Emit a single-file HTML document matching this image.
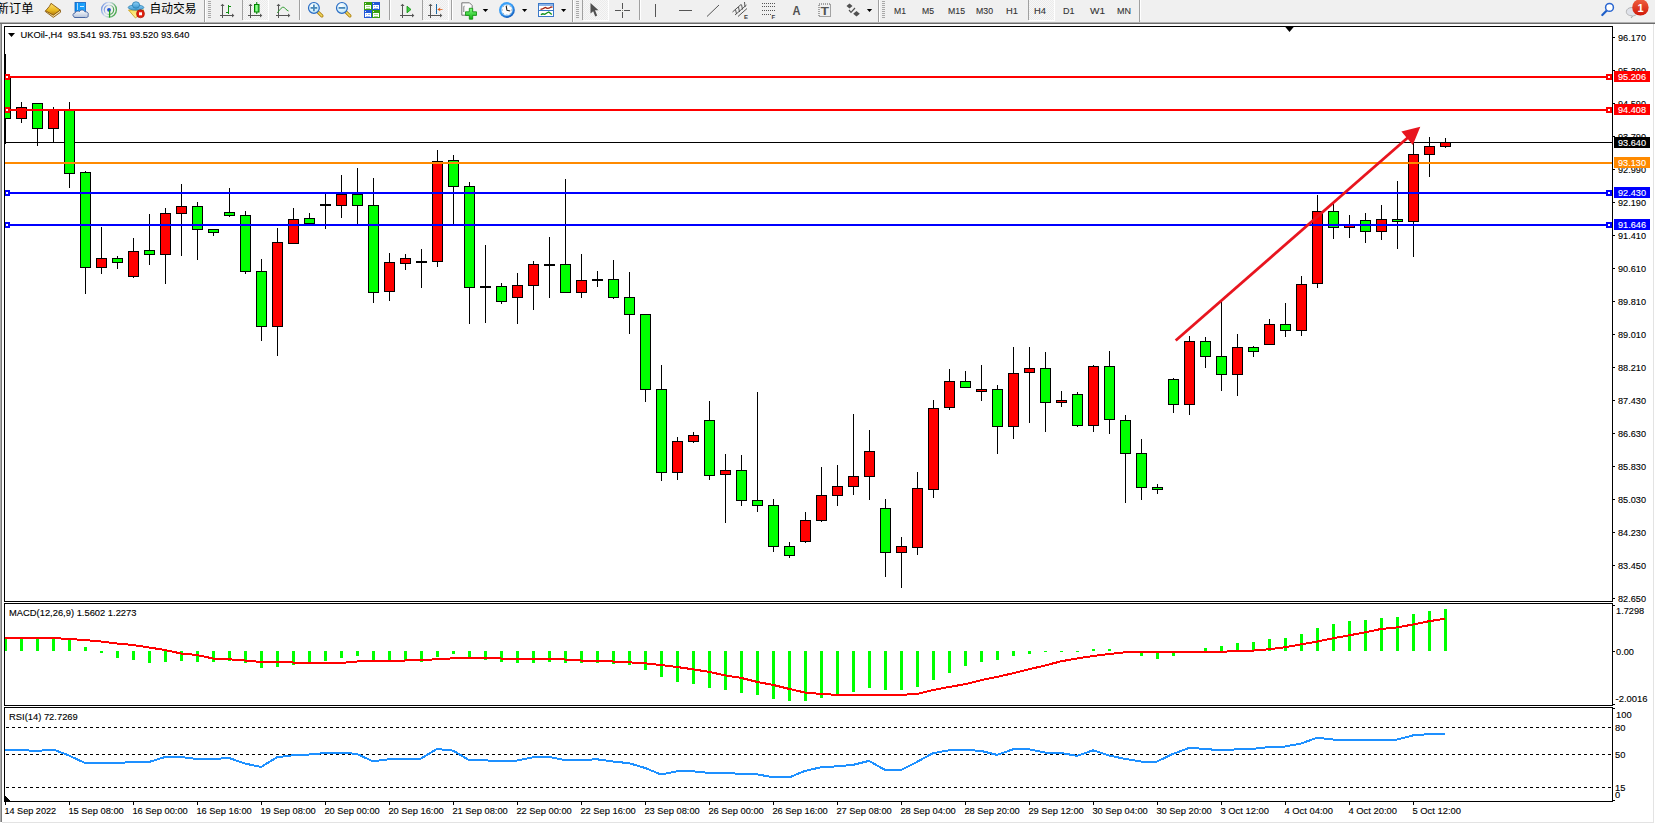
<!DOCTYPE html>
<html><head><meta charset="utf-8"><title>UKOil H4</title>
<style>
html,body{margin:0;padding:0;background:#fff;}
body{width:1655px;height:824px;overflow:hidden;position:relative;font-family:'Liberation Sans', sans-serif;}
#tb{position:absolute;left:0;top:0;width:1655px;height:22px;background:#f0f0f0;}
#tbl1{position:absolute;left:0;top:22px;width:1655px;height:1px;background:#b0b0b0;}
#tbl2{position:absolute;left:0;top:23px;width:1655px;height:1px;background:#6c6c6c;}
</style></head><body>
<svg id="chart" width="1655" height="824" viewBox="0 0 1655 824" style="position:absolute;left:0;top:0">
<g shape-rendering="crispEdges">
<rect x="0" y="22" width="1" height="800" fill="#ababab"/>
<rect x="1" y="22" width="1" height="800" fill="#7a7a7a"/>
<rect x="2" y="822" width="1652" height="1" fill="#e3e3e3"/>
<rect x="1653" y="24" width="1" height="799" fill="#e3e3e3"/>
</g>
<defs><clipPath id="cm"><rect x="5" y="27" width="1607" height="574"/></clipPath><clipPath id="cd"><rect x="5" y="604" width="1607" height="101"/></clipPath><clipPath id="cr"><rect x="5" y="708" width="1607" height="93"/></clipPath></defs>
<g clip-path="url(#cm)" shape-rendering="crispEdges">
<rect x="5" y="142" width="1607" height="1" fill="#000"/>
<rect x="5" y="54" width="1" height="90" fill="#000"/>
<rect x="0" y="78" width="11" height="41" fill="#000"/>
<rect x="1" y="79" width="9" height="39" fill="#00ff00"/>
<rect x="21" y="102" width="1" height="21" fill="#000"/>
<rect x="16" y="107" width="11" height="12" fill="#000"/>
<rect x="17" y="108" width="9" height="10" fill="#ff0000"/>
<rect x="37" y="103" width="1" height="43" fill="#000"/>
<rect x="32" y="103" width="11" height="26" fill="#000"/>
<rect x="33" y="104" width="9" height="24" fill="#00ff00"/>
<rect x="53" y="107" width="1" height="36" fill="#000"/>
<rect x="48" y="109" width="11" height="20" fill="#000"/>
<rect x="49" y="110" width="9" height="18" fill="#ff0000"/>
<rect x="69" y="102" width="1" height="86" fill="#000"/>
<rect x="64" y="110" width="11" height="64" fill="#000"/>
<rect x="65" y="111" width="9" height="62" fill="#00ff00"/>
<rect x="85" y="171" width="1" height="123" fill="#000"/>
<rect x="80" y="172" width="11" height="96" fill="#000"/>
<rect x="81" y="173" width="9" height="94" fill="#00ff00"/>
<rect x="101" y="227" width="1" height="47" fill="#000"/>
<rect x="96" y="258" width="11" height="10" fill="#000"/>
<rect x="97" y="259" width="9" height="8" fill="#ff0000"/>
<rect x="117" y="256" width="1" height="13" fill="#000"/>
<rect x="112" y="258" width="11" height="5" fill="#000"/>
<rect x="113" y="259" width="9" height="3" fill="#00ff00"/>
<rect x="133" y="238" width="1" height="40" fill="#000"/>
<rect x="128" y="251" width="11" height="26" fill="#000"/>
<rect x="129" y="252" width="9" height="24" fill="#ff0000"/>
<rect x="149" y="214" width="1" height="51" fill="#000"/>
<rect x="144" y="250" width="11" height="5" fill="#000"/>
<rect x="145" y="251" width="9" height="3" fill="#00ff00"/>
<rect x="165" y="208" width="1" height="76" fill="#000"/>
<rect x="160" y="213" width="11" height="42" fill="#000"/>
<rect x="161" y="214" width="9" height="40" fill="#ff0000"/>
<rect x="181" y="184" width="1" height="72" fill="#000"/>
<rect x="176" y="206" width="11" height="8" fill="#000"/>
<rect x="177" y="207" width="9" height="6" fill="#ff0000"/>
<rect x="197" y="202" width="1" height="58" fill="#000"/>
<rect x="192" y="206" width="11" height="24" fill="#000"/>
<rect x="193" y="207" width="9" height="22" fill="#00ff00"/>
<rect x="213" y="229" width="1" height="7" fill="#000"/>
<rect x="208" y="229" width="11" height="4" fill="#000"/>
<rect x="209" y="230" width="9" height="2" fill="#00ff00"/>
<rect x="229" y="188" width="1" height="29" fill="#000"/>
<rect x="224" y="212" width="11" height="4" fill="#000"/>
<rect x="225" y="213" width="9" height="2" fill="#00ff00"/>
<rect x="245" y="211" width="1" height="63" fill="#000"/>
<rect x="240" y="215" width="11" height="57" fill="#000"/>
<rect x="241" y="216" width="9" height="55" fill="#00ff00"/>
<rect x="261" y="259" width="1" height="82" fill="#000"/>
<rect x="256" y="271" width="11" height="56" fill="#000"/>
<rect x="257" y="272" width="9" height="54" fill="#00ff00"/>
<rect x="277" y="228" width="1" height="128" fill="#000"/>
<rect x="272" y="242" width="11" height="85" fill="#000"/>
<rect x="273" y="243" width="9" height="83" fill="#ff0000"/>
<rect x="293" y="208" width="1" height="36" fill="#000"/>
<rect x="288" y="219" width="11" height="25" fill="#000"/>
<rect x="289" y="220" width="9" height="23" fill="#ff0000"/>
<rect x="309" y="213" width="1" height="11" fill="#000"/>
<rect x="304" y="218" width="11" height="6" fill="#000"/>
<rect x="305" y="219" width="9" height="4" fill="#00ff00"/>
<rect x="325" y="193" width="1" height="36" fill="#000"/>
<rect x="320" y="204" width="11" height="2" fill="#000"/>
<rect x="341" y="175" width="1" height="43" fill="#000"/>
<rect x="336" y="194" width="11" height="12" fill="#000"/>
<rect x="337" y="195" width="9" height="10" fill="#ff0000"/>
<rect x="357" y="168" width="1" height="56" fill="#000"/>
<rect x="352" y="194" width="11" height="12" fill="#000"/>
<rect x="353" y="195" width="9" height="10" fill="#00ff00"/>
<rect x="373" y="178" width="1" height="125" fill="#000"/>
<rect x="368" y="205" width="11" height="88" fill="#000"/>
<rect x="369" y="206" width="9" height="86" fill="#00ff00"/>
<rect x="389" y="253" width="1" height="48" fill="#000"/>
<rect x="384" y="262" width="11" height="30" fill="#000"/>
<rect x="385" y="263" width="9" height="28" fill="#ff0000"/>
<rect x="405" y="254" width="1" height="16" fill="#000"/>
<rect x="400" y="258" width="11" height="6" fill="#000"/>
<rect x="401" y="259" width="9" height="4" fill="#ff0000"/>
<rect x="421" y="249" width="1" height="39" fill="#000"/>
<rect x="416" y="261" width="11" height="2" fill="#000"/>
<rect x="437" y="150" width="1" height="117" fill="#000"/>
<rect x="432" y="161" width="11" height="101" fill="#000"/>
<rect x="433" y="162" width="9" height="99" fill="#ff0000"/>
<rect x="453" y="155" width="1" height="69" fill="#000"/>
<rect x="448" y="160" width="11" height="27" fill="#000"/>
<rect x="449" y="161" width="9" height="25" fill="#00ff00"/>
<rect x="469" y="182" width="1" height="142" fill="#000"/>
<rect x="464" y="186" width="11" height="102" fill="#000"/>
<rect x="465" y="187" width="9" height="100" fill="#00ff00"/>
<rect x="485" y="245" width="1" height="78" fill="#000"/>
<rect x="480" y="286" width="11" height="2" fill="#000"/>
<rect x="501" y="283" width="1" height="21" fill="#000"/>
<rect x="496" y="286" width="11" height="16" fill="#000"/>
<rect x="497" y="287" width="9" height="14" fill="#00ff00"/>
<rect x="517" y="273" width="1" height="51" fill="#000"/>
<rect x="512" y="285" width="11" height="13" fill="#000"/>
<rect x="513" y="286" width="9" height="11" fill="#ff0000"/>
<rect x="533" y="261" width="1" height="49" fill="#000"/>
<rect x="528" y="264" width="11" height="22" fill="#000"/>
<rect x="529" y="265" width="9" height="20" fill="#ff0000"/>
<rect x="549" y="237" width="1" height="61" fill="#000"/>
<rect x="544" y="264" width="11" height="2" fill="#000"/>
<rect x="565" y="179" width="1" height="114" fill="#000"/>
<rect x="560" y="264" width="11" height="29" fill="#000"/>
<rect x="561" y="265" width="9" height="27" fill="#00ff00"/>
<rect x="581" y="254" width="1" height="44" fill="#000"/>
<rect x="576" y="280" width="11" height="13" fill="#000"/>
<rect x="577" y="281" width="9" height="11" fill="#ff0000"/>
<rect x="597" y="271" width="1" height="16" fill="#000"/>
<rect x="592" y="279" width="11" height="2" fill="#000"/>
<rect x="613" y="260" width="1" height="39" fill="#000"/>
<rect x="608" y="279" width="11" height="19" fill="#000"/>
<rect x="609" y="280" width="9" height="17" fill="#00ff00"/>
<rect x="629" y="272" width="1" height="62" fill="#000"/>
<rect x="624" y="297" width="11" height="18" fill="#000"/>
<rect x="625" y="298" width="9" height="16" fill="#00ff00"/>
<rect x="645" y="314" width="1" height="88" fill="#000"/>
<rect x="640" y="314" width="11" height="76" fill="#000"/>
<rect x="641" y="315" width="9" height="74" fill="#00ff00"/>
<rect x="661" y="365" width="1" height="116" fill="#000"/>
<rect x="656" y="389" width="11" height="84" fill="#000"/>
<rect x="657" y="390" width="9" height="82" fill="#00ff00"/>
<rect x="677" y="437" width="1" height="43" fill="#000"/>
<rect x="672" y="441" width="11" height="32" fill="#000"/>
<rect x="673" y="442" width="9" height="30" fill="#ff0000"/>
<rect x="693" y="432" width="1" height="11" fill="#000"/>
<rect x="688" y="435" width="11" height="7" fill="#000"/>
<rect x="689" y="436" width="9" height="5" fill="#ff0000"/>
<rect x="709" y="401" width="1" height="79" fill="#000"/>
<rect x="704" y="420" width="11" height="56" fill="#000"/>
<rect x="705" y="421" width="9" height="54" fill="#00ff00"/>
<rect x="725" y="454" width="1" height="69" fill="#000"/>
<rect x="720" y="470" width="11" height="5" fill="#000"/>
<rect x="721" y="471" width="9" height="3" fill="#ff0000"/>
<rect x="741" y="455" width="1" height="51" fill="#000"/>
<rect x="736" y="470" width="11" height="31" fill="#000"/>
<rect x="737" y="471" width="9" height="29" fill="#00ff00"/>
<rect x="757" y="392" width="1" height="120" fill="#000"/>
<rect x="752" y="500" width="11" height="6" fill="#000"/>
<rect x="753" y="501" width="9" height="4" fill="#00ff00"/>
<rect x="773" y="499" width="1" height="53" fill="#000"/>
<rect x="768" y="505" width="11" height="42" fill="#000"/>
<rect x="769" y="506" width="9" height="40" fill="#00ff00"/>
<rect x="789" y="542" width="1" height="16" fill="#000"/>
<rect x="784" y="546" width="11" height="10" fill="#000"/>
<rect x="785" y="547" width="9" height="8" fill="#00ff00"/>
<rect x="805" y="512" width="1" height="31" fill="#000"/>
<rect x="800" y="520" width="11" height="22" fill="#000"/>
<rect x="801" y="521" width="9" height="20" fill="#ff0000"/>
<rect x="821" y="467" width="1" height="55" fill="#000"/>
<rect x="816" y="495" width="11" height="26" fill="#000"/>
<rect x="817" y="496" width="9" height="24" fill="#ff0000"/>
<rect x="837" y="465" width="1" height="41" fill="#000"/>
<rect x="832" y="486" width="11" height="10" fill="#000"/>
<rect x="833" y="487" width="9" height="8" fill="#ff0000"/>
<rect x="853" y="414" width="1" height="81" fill="#000"/>
<rect x="848" y="476" width="11" height="11" fill="#000"/>
<rect x="849" y="477" width="9" height="9" fill="#ff0000"/>
<rect x="869" y="430" width="1" height="70" fill="#000"/>
<rect x="864" y="451" width="11" height="26" fill="#000"/>
<rect x="865" y="452" width="9" height="24" fill="#ff0000"/>
<rect x="885" y="499" width="1" height="78" fill="#000"/>
<rect x="880" y="508" width="11" height="45" fill="#000"/>
<rect x="881" y="509" width="9" height="43" fill="#00ff00"/>
<rect x="901" y="537" width="1" height="51" fill="#000"/>
<rect x="896" y="546" width="11" height="7" fill="#000"/>
<rect x="897" y="547" width="9" height="5" fill="#ff0000"/>
<rect x="917" y="472" width="1" height="83" fill="#000"/>
<rect x="912" y="488" width="11" height="60" fill="#000"/>
<rect x="913" y="489" width="9" height="58" fill="#ff0000"/>
<rect x="933" y="400" width="1" height="98" fill="#000"/>
<rect x="928" y="408" width="11" height="82" fill="#000"/>
<rect x="929" y="409" width="9" height="80" fill="#ff0000"/>
<rect x="949" y="369" width="1" height="41" fill="#000"/>
<rect x="944" y="381" width="11" height="27" fill="#000"/>
<rect x="945" y="382" width="9" height="25" fill="#ff0000"/>
<rect x="965" y="371" width="1" height="17" fill="#000"/>
<rect x="960" y="381" width="11" height="7" fill="#000"/>
<rect x="961" y="382" width="9" height="5" fill="#00ff00"/>
<rect x="981" y="365" width="1" height="36" fill="#000"/>
<rect x="976" y="389" width="11" height="3" fill="#000"/>
<rect x="977" y="390" width="9" height="1" fill="#ff0000"/>
<rect x="997" y="385" width="1" height="69" fill="#000"/>
<rect x="992" y="389" width="11" height="38" fill="#000"/>
<rect x="993" y="390" width="9" height="36" fill="#00ff00"/>
<rect x="1013" y="347" width="1" height="92" fill="#000"/>
<rect x="1008" y="373" width="11" height="54" fill="#000"/>
<rect x="1009" y="374" width="9" height="52" fill="#ff0000"/>
<rect x="1029" y="347" width="1" height="76" fill="#000"/>
<rect x="1024" y="368" width="11" height="5" fill="#000"/>
<rect x="1025" y="369" width="9" height="3" fill="#ff0000"/>
<rect x="1045" y="352" width="1" height="80" fill="#000"/>
<rect x="1040" y="368" width="11" height="35" fill="#000"/>
<rect x="1041" y="369" width="9" height="33" fill="#00ff00"/>
<rect x="1061" y="391" width="1" height="16" fill="#000"/>
<rect x="1056" y="400" width="11" height="3" fill="#000"/>
<rect x="1057" y="401" width="9" height="1" fill="#ff0000"/>
<rect x="1077" y="392" width="1" height="35" fill="#000"/>
<rect x="1072" y="394" width="11" height="32" fill="#000"/>
<rect x="1073" y="395" width="9" height="30" fill="#00ff00"/>
<rect x="1093" y="365" width="1" height="67" fill="#000"/>
<rect x="1088" y="366" width="11" height="60" fill="#000"/>
<rect x="1089" y="367" width="9" height="58" fill="#ff0000"/>
<rect x="1109" y="351" width="1" height="83" fill="#000"/>
<rect x="1104" y="366" width="11" height="54" fill="#000"/>
<rect x="1105" y="367" width="9" height="52" fill="#00ff00"/>
<rect x="1125" y="415" width="1" height="88" fill="#000"/>
<rect x="1120" y="420" width="11" height="34" fill="#000"/>
<rect x="1121" y="421" width="9" height="32" fill="#00ff00"/>
<rect x="1141" y="439" width="1" height="61" fill="#000"/>
<rect x="1136" y="453" width="11" height="35" fill="#000"/>
<rect x="1137" y="454" width="9" height="33" fill="#00ff00"/>
<rect x="1157" y="484" width="1" height="10" fill="#000"/>
<rect x="1152" y="487" width="11" height="3" fill="#000"/>
<rect x="1153" y="488" width="9" height="1" fill="#00ff00"/>
<rect x="1173" y="378" width="1" height="35" fill="#000"/>
<rect x="1168" y="379" width="11" height="26" fill="#000"/>
<rect x="1169" y="380" width="9" height="24" fill="#00ff00"/>
<rect x="1189" y="336" width="1" height="79" fill="#000"/>
<rect x="1184" y="341" width="11" height="64" fill="#000"/>
<rect x="1185" y="342" width="9" height="62" fill="#ff0000"/>
<rect x="1205" y="337" width="1" height="31" fill="#000"/>
<rect x="1200" y="341" width="11" height="16" fill="#000"/>
<rect x="1201" y="342" width="9" height="14" fill="#00ff00"/>
<rect x="1221" y="302" width="1" height="89" fill="#000"/>
<rect x="1216" y="356" width="11" height="19" fill="#000"/>
<rect x="1217" y="357" width="9" height="17" fill="#00ff00"/>
<rect x="1237" y="334" width="1" height="62" fill="#000"/>
<rect x="1232" y="347" width="11" height="28" fill="#000"/>
<rect x="1233" y="348" width="9" height="26" fill="#ff0000"/>
<rect x="1253" y="346" width="1" height="11" fill="#000"/>
<rect x="1248" y="347" width="11" height="5" fill="#000"/>
<rect x="1249" y="348" width="9" height="3" fill="#00ff00"/>
<rect x="1269" y="319" width="1" height="26" fill="#000"/>
<rect x="1264" y="324" width="11" height="21" fill="#000"/>
<rect x="1265" y="325" width="9" height="19" fill="#ff0000"/>
<rect x="1285" y="303" width="1" height="34" fill="#000"/>
<rect x="1280" y="324" width="11" height="7" fill="#000"/>
<rect x="1281" y="325" width="9" height="5" fill="#00ff00"/>
<rect x="1301" y="276" width="1" height="60" fill="#000"/>
<rect x="1296" y="284" width="11" height="47" fill="#000"/>
<rect x="1297" y="285" width="9" height="45" fill="#ff0000"/>
<rect x="1317" y="195" width="1" height="93" fill="#000"/>
<rect x="1312" y="211" width="11" height="73" fill="#000"/>
<rect x="1313" y="212" width="9" height="71" fill="#ff0000"/>
<rect x="1333" y="204" width="1" height="35" fill="#000"/>
<rect x="1328" y="211" width="11" height="17" fill="#000"/>
<rect x="1329" y="212" width="9" height="15" fill="#00ff00"/>
<rect x="1349" y="215" width="1" height="23" fill="#000"/>
<rect x="1344" y="225" width="11" height="3" fill="#000"/>
<rect x="1345" y="226" width="9" height="1" fill="#ff0000"/>
<rect x="1365" y="213" width="1" height="30" fill="#000"/>
<rect x="1360" y="220" width="11" height="12" fill="#000"/>
<rect x="1361" y="221" width="9" height="10" fill="#00ff00"/>
<rect x="1381" y="205" width="1" height="35" fill="#000"/>
<rect x="1376" y="219" width="11" height="13" fill="#000"/>
<rect x="1377" y="220" width="9" height="11" fill="#ff0000"/>
<rect x="1397" y="181" width="1" height="68" fill="#000"/>
<rect x="1392" y="219" width="11" height="3" fill="#000"/>
<rect x="1393" y="220" width="9" height="1" fill="#00ff00"/>
<rect x="1413" y="143" width="1" height="114" fill="#000"/>
<rect x="1408" y="154" width="11" height="68" fill="#000"/>
<rect x="1409" y="155" width="9" height="66" fill="#ff0000"/>
<rect x="1429" y="137" width="1" height="40" fill="#000"/>
<rect x="1424" y="146" width="11" height="9" fill="#000"/>
<rect x="1425" y="147" width="9" height="7" fill="#ff0000"/>
<rect x="1445" y="138" width="1" height="10" fill="#000"/>
<rect x="1440" y="142" width="11" height="5" fill="#000"/>
<rect x="1441" y="143" width="9" height="3" fill="#ff0000"/>
<rect x="5" y="76" width="1607" height="2" fill="#ff0000"/>
<rect x="5" y="109" width="1607" height="2" fill="#ff0000"/>
<rect x="5" y="162" width="1607" height="2" fill="#ff8a00"/>
<rect x="5" y="192" width="1607" height="2" fill="#0000ff"/>
<rect x="5" y="224" width="1607" height="2" fill="#0000ff"/>
<rect x="4" y="74" width="6" height="6" fill="#ff0000"/><rect x="6" y="76" width="2" height="2" fill="#fff"/>
<rect x="1606" y="74" width="6" height="6" fill="#ff0000"/><rect x="1608" y="76" width="2" height="2" fill="#fff"/>
<rect x="4" y="107" width="6" height="6" fill="#ff0000"/><rect x="6" y="109" width="2" height="2" fill="#fff"/>
<rect x="1606" y="107" width="6" height="6" fill="#ff0000"/><rect x="1608" y="109" width="2" height="2" fill="#fff"/>
<rect x="4" y="190" width="6" height="6" fill="#0000ff"/><rect x="6" y="192" width="2" height="2" fill="#fff"/>
<rect x="1606" y="190" width="6" height="6" fill="#0000ff"/><rect x="1608" y="192" width="2" height="2" fill="#fff"/>
<rect x="4" y="222" width="6" height="6" fill="#0000ff"/><rect x="6" y="224" width="2" height="2" fill="#fff"/>
<rect x="1606" y="222" width="6" height="6" fill="#0000ff"/><rect x="1608" y="224" width="2" height="2" fill="#fff"/>
</g>
<line x1="1175.7" y1="340.5" x2="1408.5" y2="137.0" stroke="#e8151f" stroke-width="2.8"/>
<polygon points="1420.3,126.8 1401.4,131.4 1406.5,137.5 1412.8,145" fill="#e8151f"/>
<g clip-path="url(#cd)" shape-rendering="crispEdges">
<rect x="4" y="638" width="3" height="13" fill="#00ff00"/>
<rect x="20" y="638" width="3" height="13" fill="#00ff00"/>
<rect x="36" y="638" width="3" height="13" fill="#00ff00"/>
<rect x="52" y="637" width="3" height="14" fill="#00ff00"/>
<rect x="68" y="640" width="3" height="11" fill="#00ff00"/>
<rect x="84" y="647" width="3" height="4" fill="#00ff00"/>
<rect x="100" y="651" width="3" height="2" fill="#00ff00"/>
<rect x="116" y="651" width="3" height="7" fill="#00ff00"/>
<rect x="132" y="651" width="3" height="9" fill="#00ff00"/>
<rect x="148" y="651" width="3" height="12" fill="#00ff00"/>
<rect x="164" y="651" width="3" height="11" fill="#00ff00"/>
<rect x="180" y="651" width="3" height="10" fill="#00ff00"/>
<rect x="196" y="651" width="3" height="11" fill="#00ff00"/>
<rect x="212" y="651" width="3" height="11" fill="#00ff00"/>
<rect x="228" y="651" width="3" height="10" fill="#00ff00"/>
<rect x="244" y="651" width="3" height="12" fill="#00ff00"/>
<rect x="260" y="651" width="3" height="17" fill="#00ff00"/>
<rect x="276" y="651" width="3" height="16" fill="#00ff00"/>
<rect x="292" y="651" width="3" height="14" fill="#00ff00"/>
<rect x="308" y="651" width="3" height="11" fill="#00ff00"/>
<rect x="324" y="651" width="3" height="10" fill="#00ff00"/>
<rect x="340" y="651" width="3" height="7" fill="#00ff00"/>
<rect x="356" y="651" width="3" height="5" fill="#00ff00"/>
<rect x="372" y="651" width="3" height="9" fill="#00ff00"/>
<rect x="388" y="651" width="3" height="9" fill="#00ff00"/>
<rect x="404" y="651" width="3" height="9" fill="#00ff00"/>
<rect x="420" y="651" width="3" height="11" fill="#00ff00"/>
<rect x="436" y="651" width="3" height="6" fill="#00ff00"/>
<rect x="452" y="651" width="3" height="3" fill="#00ff00"/>
<rect x="468" y="651" width="3" height="6" fill="#00ff00"/>
<rect x="484" y="651" width="3" height="9" fill="#00ff00"/>
<rect x="500" y="651" width="3" height="11" fill="#00ff00"/>
<rect x="516" y="651" width="3" height="12" fill="#00ff00"/>
<rect x="532" y="651" width="3" height="12" fill="#00ff00"/>
<rect x="548" y="651" width="3" height="11" fill="#00ff00"/>
<rect x="564" y="651" width="3" height="12" fill="#00ff00"/>
<rect x="580" y="651" width="3" height="12" fill="#00ff00"/>
<rect x="596" y="651" width="3" height="12" fill="#00ff00"/>
<rect x="612" y="651" width="3" height="13" fill="#00ff00"/>
<rect x="628" y="651" width="3" height="14" fill="#00ff00"/>
<rect x="644" y="651" width="3" height="19" fill="#00ff00"/>
<rect x="660" y="651" width="3" height="26" fill="#00ff00"/>
<rect x="676" y="651" width="3" height="31" fill="#00ff00"/>
<rect x="692" y="651" width="3" height="33" fill="#00ff00"/>
<rect x="708" y="651" width="3" height="37" fill="#00ff00"/>
<rect x="724" y="651" width="3" height="39" fill="#00ff00"/>
<rect x="740" y="651" width="3" height="42" fill="#00ff00"/>
<rect x="756" y="651" width="3" height="44" fill="#00ff00"/>
<rect x="772" y="651" width="3" height="48" fill="#00ff00"/>
<rect x="788" y="651" width="3" height="50" fill="#00ff00"/>
<rect x="804" y="651" width="3" height="50" fill="#00ff00"/>
<rect x="820" y="651" width="3" height="47" fill="#00ff00"/>
<rect x="836" y="651" width="3" height="43" fill="#00ff00"/>
<rect x="852" y="651" width="3" height="41" fill="#00ff00"/>
<rect x="868" y="651" width="3" height="37" fill="#00ff00"/>
<rect x="884" y="651" width="3" height="39" fill="#00ff00"/>
<rect x="900" y="651" width="3" height="39" fill="#00ff00"/>
<rect x="916" y="651" width="3" height="36" fill="#00ff00"/>
<rect x="932" y="651" width="3" height="29" fill="#00ff00"/>
<rect x="948" y="651" width="3" height="22" fill="#00ff00"/>
<rect x="964" y="651" width="3" height="15" fill="#00ff00"/>
<rect x="980" y="651" width="3" height="11" fill="#00ff00"/>
<rect x="996" y="651" width="3" height="9" fill="#00ff00"/>
<rect x="1012" y="651" width="3" height="5" fill="#00ff00"/>
<rect x="1028" y="651" width="3" height="3" fill="#00ff00"/>
<rect x="1044" y="651" width="3" height="1" fill="#00ff00"/>
<rect x="1060" y="651" width="3" height="1" fill="#00ff00"/>
<rect x="1076" y="651" width="3" height="1" fill="#00ff00"/>
<rect x="1092" y="649" width="3" height="2" fill="#00ff00"/>
<rect x="1108" y="649" width="3" height="2" fill="#00ff00"/>
<rect x="1124" y="651" width="3" height="1" fill="#00ff00"/>
<rect x="1140" y="651" width="3" height="5" fill="#00ff00"/>
<rect x="1156" y="651" width="3" height="8" fill="#00ff00"/>
<rect x="1172" y="651" width="3" height="5" fill="#00ff00"/>
<rect x="1204" y="648" width="3" height="3" fill="#00ff00"/>
<rect x="1220" y="646" width="3" height="5" fill="#00ff00"/>
<rect x="1236" y="643" width="3" height="8" fill="#00ff00"/>
<rect x="1252" y="642" width="3" height="9" fill="#00ff00"/>
<rect x="1268" y="639" width="3" height="12" fill="#00ff00"/>
<rect x="1284" y="638" width="3" height="13" fill="#00ff00"/>
<rect x="1300" y="634" width="3" height="17" fill="#00ff00"/>
<rect x="1316" y="628" width="3" height="23" fill="#00ff00"/>
<rect x="1332" y="624" width="3" height="27" fill="#00ff00"/>
<rect x="1348" y="621" width="3" height="30" fill="#00ff00"/>
<rect x="1364" y="620" width="3" height="31" fill="#00ff00"/>
<rect x="1380" y="618" width="3" height="33" fill="#00ff00"/>
<rect x="1396" y="617" width="3" height="34" fill="#00ff00"/>
<rect x="1412" y="614" width="3" height="37" fill="#00ff00"/>
<rect x="1428" y="611" width="3" height="40" fill="#00ff00"/>
<rect x="1444" y="609" width="3" height="42" fill="#00ff00"/>
<polyline points="5,638 21,638 37,638 53,638 69,639 85,640 101,641.5 117,643.5 133,645 149,647.5 165,650 181,653.5 197,655 213,658.5 229,659.3 245,660.5 261,662 277,662 293,662.5 309,662.5 325,663 341,663 357,661.5 373,661 389,661 405,660.5 421,660 437,659.3 453,658.3 469,658 485,658 501,658.5 517,659 533,659 549,659 565,659.5 581,660.5 597,661 613,661.5 629,662.3 645,663.3 661,665 677,667 693,669.3 709,671.9 725,675.3 741,677.9 757,681.9 773,684.9 789,688.9 805,692.5 821,694 837,694.8 853,694.8 869,694.8 885,694.8 901,694.8 917,694 933,690 949,687 965,684.2 981,680.2 997,676.9 1013,673.3 1029,669.3 1045,665.5 1061,661.3 1077,658.5 1093,656 1109,654 1125,652.3 1141,651.5 1157,651.5 1173,651.5 1189,651.7 1205,651.9 1221,651.9 1237,650.9 1253,650.6 1269,649.3 1285,647.3 1301,644.4 1317,641.6 1333,638.3 1349,635.4 1365,632.3 1381,629 1397,627.4 1413,624.5 1429,621.2 1445,618.8" fill="none" stroke="#ff0000" stroke-width="2"/>
</g>
<g clip-path="url(#cr)" shape-rendering="crispEdges">
<line x1="6" y1="727.5" x2="1612" y2="727.5" stroke="#000" stroke-width="1" stroke-dasharray="3,3"/>
<line x1="6" y1="754.5" x2="1612" y2="754.5" stroke="#000" stroke-width="1" stroke-dasharray="3,3"/>
<line x1="6" y1="787.5" x2="1612" y2="787.5" stroke="#000" stroke-width="1" stroke-dasharray="3,3"/>
<polyline points="5,750 21,750 37,751 53,749.5 69,755.5 85,763 101,763 117,763 133,762 149,762 165,757 181,757 197,759 213,759 229,758 245,763.5 261,767 277,757.3 293,755.3 309,754.5 325,753 341,752.5 357,754 373,761.3 389,759.3 405,758.5 421,758.5 437,749 453,750.6 469,760 485,760.3 501,761.5 517,760.5 533,757.3 549,757 565,760 581,760 597,759.3 613,761.5 629,763.2 645,767.9 661,774.5 677,771.3 693,771.3 709,772.9 725,772.9 741,773.9 757,774.3 773,777.3 789,777.5 805,770.9 821,767.3 837,766.3 853,764.9 869,760.9 885,769.9 901,769.9 917,761.9 933,753.2 949,750.3 965,749.9 981,750.9 997,754.9 1013,749.3 1029,749.3 1045,752.5 1061,752.9 1077,755.9 1093,750.3 1109,755.5 1125,758.9 1141,761.5 1157,761.5 1173,753.9 1189,747.9 1205,748.9 1221,750.4 1237,749.3 1253,748.8 1269,747.1 1285,746.5 1301,743.5 1317,737.8 1333,739.5 1349,739.5 1365,739.5 1381,739.5 1397,739.5 1413,735.4 1429,734.1 1445,734.1" fill="none" stroke="#1e90ff" stroke-width="2"/>
</g>
<g shape-rendering="crispEdges" fill="#000">
<rect x="4" y="26" width="1609" height="1"/>
<rect x="4" y="601" width="1609" height="1"/>
<rect x="4" y="26" width="1" height="576"/>
<rect x="1612" y="26" width="1" height="576"/>
<rect x="4" y="603" width="1609" height="1"/>
<rect x="4" y="705" width="1609" height="1"/>
<rect x="4" y="603" width="1" height="103"/>
<rect x="1612" y="603" width="1" height="103"/>
<rect x="4" y="707" width="1609" height="1"/>
<rect x="4" y="801" width="1609" height="1"/>
<rect x="4" y="707" width="1" height="95"/>
<rect x="1612" y="707" width="1" height="95"/>
<rect x="1613" y="37" width="2" height="1"/>
<rect x="1613" y="70" width="2" height="1"/>
<rect x="1613" y="103" width="2" height="1"/>
<rect x="1613" y="136" width="2" height="1"/>
<rect x="1613" y="169" width="2" height="1"/>
<rect x="1613" y="202" width="2" height="1"/>
<rect x="1613" y="235" width="2" height="1"/>
<rect x="1613" y="268" width="2" height="1"/>
<rect x="1613" y="301" width="2" height="1"/>
<rect x="1613" y="334" width="2" height="1"/>
<rect x="1613" y="367" width="2" height="1"/>
<rect x="1613" y="400" width="2" height="1"/>
<rect x="1613" y="433" width="2" height="1"/>
<rect x="1613" y="466" width="2" height="1"/>
<rect x="1613" y="499" width="2" height="1"/>
<rect x="1613" y="532" width="2" height="1"/>
<rect x="1613" y="565" width="2" height="1"/>
<rect x="1613" y="598" width="2" height="1"/>
<rect x="1613" y="605" width="2" height="1"/>
<rect x="1613" y="651" width="2" height="1"/>
<rect x="1613" y="704" width="2" height="1"/>
<rect x="1613" y="708" width="2" height="1"/>
<rect x="1613" y="800" width="2" height="1"/>
<rect x="5" y="802" width="1" height="3"/>
<rect x="69" y="802" width="1" height="3"/>
<rect x="133" y="802" width="1" height="3"/>
<rect x="197" y="802" width="1" height="3"/>
<rect x="261" y="802" width="1" height="3"/>
<rect x="325" y="802" width="1" height="3"/>
<rect x="389" y="802" width="1" height="3"/>
<rect x="453" y="802" width="1" height="3"/>
<rect x="517" y="802" width="1" height="3"/>
<rect x="581" y="802" width="1" height="3"/>
<rect x="645" y="802" width="1" height="3"/>
<rect x="709" y="802" width="1" height="3"/>
<rect x="773" y="802" width="1" height="3"/>
<rect x="837" y="802" width="1" height="3"/>
<rect x="901" y="802" width="1" height="3"/>
<rect x="965" y="802" width="1" height="3"/>
<rect x="1029" y="802" width="1" height="3"/>
<rect x="1093" y="802" width="1" height="3"/>
<rect x="1157" y="802" width="1" height="3"/>
<rect x="1221" y="802" width="1" height="3"/>
<rect x="1285" y="802" width="1" height="3"/>
<rect x="1349" y="802" width="1" height="3"/>
<rect x="1413" y="802" width="1" height="3"/>
</g>
<polygon points="1284.5,26 1294.5,26 1289.5,32" fill="#000"/>
<polygon points="4,795 4,802 11,802" fill="#000" shape-rendering="crispEdges"/>
<polygon points="8,33 15,33 11.5,37" fill="#000"/>
<text x="20.5" y="38" font-family="'Liberation Sans', sans-serif" font-size="9.6" fill="#000" stroke="#000" stroke-width="0.12" textLength="169" lengthAdjust="spacingAndGlyphs" xml:space="preserve">UKOil-,H4  93.541 93.751 93.520 93.640</text>
<text x="9" y="616" font-family="'Liberation Sans', sans-serif" font-size="9.6" fill="#000" stroke="#000" stroke-width="0.12" textLength="127.5" lengthAdjust="spacingAndGlyphs" xml:space="preserve">MACD(12,26,9) 1.5602 1.2273</text>
<text x="9" y="720" font-family="'Liberation Sans', sans-serif" font-size="9.6" fill="#000" stroke="#000" stroke-width="0.12" textLength="68.8" lengthAdjust="spacingAndGlyphs" xml:space="preserve">RSI(14) 72.7269</text>
<text x="1618" y="41" font-family="'Liberation Sans', sans-serif" font-size="9.6" fill="#000" stroke="#000" stroke-width="0.12" textLength="28" lengthAdjust="spacingAndGlyphs" xml:space="preserve">96.170</text>
<text x="1618" y="74" font-family="'Liberation Sans', sans-serif" font-size="9.6" fill="#000" stroke="#000" stroke-width="0.12" textLength="28" lengthAdjust="spacingAndGlyphs" xml:space="preserve">95.390</text>
<text x="1618" y="107" font-family="'Liberation Sans', sans-serif" font-size="9.6" fill="#000" stroke="#000" stroke-width="0.12" textLength="28" lengthAdjust="spacingAndGlyphs" xml:space="preserve">94.590</text>
<text x="1618" y="140" font-family="'Liberation Sans', sans-serif" font-size="9.6" fill="#000" stroke="#000" stroke-width="0.12" textLength="28" lengthAdjust="spacingAndGlyphs" xml:space="preserve">93.790</text>
<text x="1618" y="173" font-family="'Liberation Sans', sans-serif" font-size="9.6" fill="#000" stroke="#000" stroke-width="0.12" textLength="28" lengthAdjust="spacingAndGlyphs" xml:space="preserve">92.990</text>
<text x="1618" y="206" font-family="'Liberation Sans', sans-serif" font-size="9.6" fill="#000" stroke="#000" stroke-width="0.12" textLength="28" lengthAdjust="spacingAndGlyphs" xml:space="preserve">92.190</text>
<text x="1618" y="239" font-family="'Liberation Sans', sans-serif" font-size="9.6" fill="#000" stroke="#000" stroke-width="0.12" textLength="28" lengthAdjust="spacingAndGlyphs" xml:space="preserve">91.410</text>
<text x="1618" y="272" font-family="'Liberation Sans', sans-serif" font-size="9.6" fill="#000" stroke="#000" stroke-width="0.12" textLength="28" lengthAdjust="spacingAndGlyphs" xml:space="preserve">90.610</text>
<text x="1618" y="305" font-family="'Liberation Sans', sans-serif" font-size="9.6" fill="#000" stroke="#000" stroke-width="0.12" textLength="28" lengthAdjust="spacingAndGlyphs" xml:space="preserve">89.810</text>
<text x="1618" y="338" font-family="'Liberation Sans', sans-serif" font-size="9.6" fill="#000" stroke="#000" stroke-width="0.12" textLength="28" lengthAdjust="spacingAndGlyphs" xml:space="preserve">89.010</text>
<text x="1618" y="371" font-family="'Liberation Sans', sans-serif" font-size="9.6" fill="#000" stroke="#000" stroke-width="0.12" textLength="28" lengthAdjust="spacingAndGlyphs" xml:space="preserve">88.210</text>
<text x="1618" y="404" font-family="'Liberation Sans', sans-serif" font-size="9.6" fill="#000" stroke="#000" stroke-width="0.12" textLength="28" lengthAdjust="spacingAndGlyphs" xml:space="preserve">87.430</text>
<text x="1618" y="437" font-family="'Liberation Sans', sans-serif" font-size="9.6" fill="#000" stroke="#000" stroke-width="0.12" textLength="28" lengthAdjust="spacingAndGlyphs" xml:space="preserve">86.630</text>
<text x="1618" y="470" font-family="'Liberation Sans', sans-serif" font-size="9.6" fill="#000" stroke="#000" stroke-width="0.12" textLength="28" lengthAdjust="spacingAndGlyphs" xml:space="preserve">85.830</text>
<text x="1618" y="503" font-family="'Liberation Sans', sans-serif" font-size="9.6" fill="#000" stroke="#000" stroke-width="0.12" textLength="28" lengthAdjust="spacingAndGlyphs" xml:space="preserve">85.030</text>
<text x="1618" y="536" font-family="'Liberation Sans', sans-serif" font-size="9.6" fill="#000" stroke="#000" stroke-width="0.12" textLength="28" lengthAdjust="spacingAndGlyphs" xml:space="preserve">84.230</text>
<text x="1618" y="569" font-family="'Liberation Sans', sans-serif" font-size="9.6" fill="#000" stroke="#000" stroke-width="0.12" textLength="28" lengthAdjust="spacingAndGlyphs" xml:space="preserve">83.450</text>
<text x="1618" y="602" font-family="'Liberation Sans', sans-serif" font-size="9.6" fill="#000" stroke="#000" stroke-width="0.12" textLength="28" lengthAdjust="spacingAndGlyphs" xml:space="preserve">82.650</text>
<rect x="1614" y="71" width="36" height="11" fill="#ff0000" shape-rendering="crispEdges"/>
<text x="1618" y="80" font-family="'Liberation Sans', sans-serif" font-size="9.6" fill="#fff" stroke="#fff" stroke-width="0.12" textLength="28" lengthAdjust="spacingAndGlyphs" xml:space="preserve">95.206</text>
<rect x="1614" y="104" width="36" height="11" fill="#ff0000" shape-rendering="crispEdges"/>
<text x="1618" y="113" font-family="'Liberation Sans', sans-serif" font-size="9.6" fill="#fff" stroke="#fff" stroke-width="0.12" textLength="28" lengthAdjust="spacingAndGlyphs" xml:space="preserve">94.408</text>
<rect x="1614" y="137" width="36" height="11" fill="#000" shape-rendering="crispEdges"/>
<text x="1618" y="146" font-family="'Liberation Sans', sans-serif" font-size="9.6" fill="#fff" stroke="#fff" stroke-width="0.12" textLength="28" lengthAdjust="spacingAndGlyphs" xml:space="preserve">93.640</text>
<rect x="1614" y="157" width="36" height="11" fill="#ff8a00" shape-rendering="crispEdges"/>
<text x="1618" y="166" font-family="'Liberation Sans', sans-serif" font-size="9.6" fill="#fff" stroke="#fff" stroke-width="0.12" textLength="28" lengthAdjust="spacingAndGlyphs" xml:space="preserve">93.130</text>
<rect x="1614" y="187" width="36" height="11" fill="#0000ff" shape-rendering="crispEdges"/>
<text x="1618" y="196" font-family="'Liberation Sans', sans-serif" font-size="9.6" fill="#fff" stroke="#fff" stroke-width="0.12" textLength="28" lengthAdjust="spacingAndGlyphs" xml:space="preserve">92.430</text>
<rect x="1614" y="219" width="36" height="11" fill="#0000ff" shape-rendering="crispEdges"/>
<text x="1618" y="228" font-family="'Liberation Sans', sans-serif" font-size="9.6" fill="#fff" stroke="#fff" stroke-width="0.12" textLength="28" lengthAdjust="spacingAndGlyphs" xml:space="preserve">91.646</text>
<text x="1616" y="614" font-family="'Liberation Sans', sans-serif" font-size="9.6" fill="#000" stroke="#000" stroke-width="0.12" textLength="28.2" lengthAdjust="spacingAndGlyphs" xml:space="preserve">1.7298</text>
<text x="1616" y="655" font-family="'Liberation Sans', sans-serif" font-size="9.6" fill="#000" stroke="#000" stroke-width="0.12" textLength="18" lengthAdjust="spacingAndGlyphs" xml:space="preserve">0.00</text>
<text x="1615.5" y="702" font-family="'Liberation Sans', sans-serif" font-size="9.6" fill="#000" stroke="#000" stroke-width="0.12" textLength="32" lengthAdjust="spacingAndGlyphs" xml:space="preserve">-2.0016</text>
<text x="1616" y="718" font-family="'Liberation Sans', sans-serif" font-size="9.6" fill="#000" stroke="#000" stroke-width="0.12" textLength="15.6" lengthAdjust="spacingAndGlyphs" xml:space="preserve">100</text>
<text x="1615" y="731" font-family="'Liberation Sans', sans-serif" font-size="9.6" fill="#000" stroke="#000" stroke-width="0.12" textLength="10.4" lengthAdjust="spacingAndGlyphs" xml:space="preserve">80</text>
<text x="1615" y="758" font-family="'Liberation Sans', sans-serif" font-size="9.6" fill="#000" stroke="#000" stroke-width="0.12" textLength="10.4" lengthAdjust="spacingAndGlyphs" xml:space="preserve">50</text>
<text x="1615" y="791" font-family="'Liberation Sans', sans-serif" font-size="9.6" fill="#000" stroke="#000" stroke-width="0.12" textLength="10.4" lengthAdjust="spacingAndGlyphs" xml:space="preserve">15</text>
<text x="1615" y="798" font-family="'Liberation Sans', sans-serif" font-size="9.6" fill="#000" stroke="#000" stroke-width="0.12" textLength="5.2" lengthAdjust="spacingAndGlyphs" xml:space="preserve">0</text>
<text x="4.4" y="814" font-family="'Liberation Sans', sans-serif" font-size="9.6" fill="#000" stroke="#000" stroke-width="0.12" textLength="51.8" lengthAdjust="spacingAndGlyphs" xml:space="preserve">14 Sep 2022</text>
<text x="68.4" y="814" font-family="'Liberation Sans', sans-serif" font-size="9.6" fill="#000" stroke="#000" stroke-width="0.12" textLength="55.4" lengthAdjust="spacingAndGlyphs" xml:space="preserve">15 Sep 08:00</text>
<text x="132.4" y="814" font-family="'Liberation Sans', sans-serif" font-size="9.6" fill="#000" stroke="#000" stroke-width="0.12" textLength="55.4" lengthAdjust="spacingAndGlyphs" xml:space="preserve">16 Sep 00:00</text>
<text x="196.4" y="814" font-family="'Liberation Sans', sans-serif" font-size="9.6" fill="#000" stroke="#000" stroke-width="0.12" textLength="55.4" lengthAdjust="spacingAndGlyphs" xml:space="preserve">16 Sep 16:00</text>
<text x="260.4" y="814" font-family="'Liberation Sans', sans-serif" font-size="9.6" fill="#000" stroke="#000" stroke-width="0.12" textLength="55.4" lengthAdjust="spacingAndGlyphs" xml:space="preserve">19 Sep 08:00</text>
<text x="324.4" y="814" font-family="'Liberation Sans', sans-serif" font-size="9.6" fill="#000" stroke="#000" stroke-width="0.12" textLength="55.4" lengthAdjust="spacingAndGlyphs" xml:space="preserve">20 Sep 00:00</text>
<text x="388.4" y="814" font-family="'Liberation Sans', sans-serif" font-size="9.6" fill="#000" stroke="#000" stroke-width="0.12" textLength="55.4" lengthAdjust="spacingAndGlyphs" xml:space="preserve">20 Sep 16:00</text>
<text x="452.4" y="814" font-family="'Liberation Sans', sans-serif" font-size="9.6" fill="#000" stroke="#000" stroke-width="0.12" textLength="55.4" lengthAdjust="spacingAndGlyphs" xml:space="preserve">21 Sep 08:00</text>
<text x="516.4" y="814" font-family="'Liberation Sans', sans-serif" font-size="9.6" fill="#000" stroke="#000" stroke-width="0.12" textLength="55.4" lengthAdjust="spacingAndGlyphs" xml:space="preserve">22 Sep 00:00</text>
<text x="580.4" y="814" font-family="'Liberation Sans', sans-serif" font-size="9.6" fill="#000" stroke="#000" stroke-width="0.12" textLength="55.4" lengthAdjust="spacingAndGlyphs" xml:space="preserve">22 Sep 16:00</text>
<text x="644.4" y="814" font-family="'Liberation Sans', sans-serif" font-size="9.6" fill="#000" stroke="#000" stroke-width="0.12" textLength="55.4" lengthAdjust="spacingAndGlyphs" xml:space="preserve">23 Sep 08:00</text>
<text x="708.4" y="814" font-family="'Liberation Sans', sans-serif" font-size="9.6" fill="#000" stroke="#000" stroke-width="0.12" textLength="55.4" lengthAdjust="spacingAndGlyphs" xml:space="preserve">26 Sep 00:00</text>
<text x="772.4" y="814" font-family="'Liberation Sans', sans-serif" font-size="9.6" fill="#000" stroke="#000" stroke-width="0.12" textLength="55.4" lengthAdjust="spacingAndGlyphs" xml:space="preserve">26 Sep 16:00</text>
<text x="836.4" y="814" font-family="'Liberation Sans', sans-serif" font-size="9.6" fill="#000" stroke="#000" stroke-width="0.12" textLength="55.4" lengthAdjust="spacingAndGlyphs" xml:space="preserve">27 Sep 08:00</text>
<text x="900.4" y="814" font-family="'Liberation Sans', sans-serif" font-size="9.6" fill="#000" stroke="#000" stroke-width="0.12" textLength="55.4" lengthAdjust="spacingAndGlyphs" xml:space="preserve">28 Sep 04:00</text>
<text x="964.4" y="814" font-family="'Liberation Sans', sans-serif" font-size="9.6" fill="#000" stroke="#000" stroke-width="0.12" textLength="55.4" lengthAdjust="spacingAndGlyphs" xml:space="preserve">28 Sep 20:00</text>
<text x="1028.4" y="814" font-family="'Liberation Sans', sans-serif" font-size="9.6" fill="#000" stroke="#000" stroke-width="0.12" textLength="55.4" lengthAdjust="spacingAndGlyphs" xml:space="preserve">29 Sep 12:00</text>
<text x="1092.4" y="814" font-family="'Liberation Sans', sans-serif" font-size="9.6" fill="#000" stroke="#000" stroke-width="0.12" textLength="55.4" lengthAdjust="spacingAndGlyphs" xml:space="preserve">30 Sep 04:00</text>
<text x="1156.4" y="814" font-family="'Liberation Sans', sans-serif" font-size="9.6" fill="#000" stroke="#000" stroke-width="0.12" textLength="55.4" lengthAdjust="spacingAndGlyphs" xml:space="preserve">30 Sep 20:00</text>
<text x="1220.4" y="814" font-family="'Liberation Sans', sans-serif" font-size="9.6" fill="#000" stroke="#000" stroke-width="0.12" textLength="48.6" lengthAdjust="spacingAndGlyphs" xml:space="preserve">3 Oct 12:00</text>
<text x="1284.4" y="814" font-family="'Liberation Sans', sans-serif" font-size="9.6" fill="#000" stroke="#000" stroke-width="0.12" textLength="48.6" lengthAdjust="spacingAndGlyphs" xml:space="preserve">4 Oct 04:00</text>
<text x="1348.4" y="814" font-family="'Liberation Sans', sans-serif" font-size="9.6" fill="#000" stroke="#000" stroke-width="0.12" textLength="48.6" lengthAdjust="spacingAndGlyphs" xml:space="preserve">4 Oct 20:00</text>
<text x="1412.4" y="814" font-family="'Liberation Sans', sans-serif" font-size="9.6" fill="#000" stroke="#000" stroke-width="0.12" textLength="48.6" lengthAdjust="spacingAndGlyphs" xml:space="preserve">5 Oct 12:00</text>
</svg>
<div id="tb">
<svg width="1655" height="22" style="position:absolute;left:0;top:0">
<defs>
<linearGradient id="gold" x1="0" y1="0" x2="0" y2="1"><stop offset="0" stop-color="#ffe070"/><stop offset="0.6" stop-color="#e8b820"/><stop offset="1" stop-color="#b07810"/></linearGradient>
<linearGradient id="cloud" x1="0" y1="0" x2="0" y2="1"><stop offset="0" stop-color="#ffffff"/><stop offset="1" stop-color="#b4c2da"/></linearGradient>
<linearGradient id="bluebox" x1="0" y1="0" x2="1" y2="0"><stop offset="0" stop-color="#0a8ef0"/><stop offset="1" stop-color="#22a8ff"/></linearGradient>
<linearGradient id="gcandle" x1="0" y1="0" x2="1" y2="0"><stop offset="0" stop-color="#30e030"/><stop offset="0.5" stop-color="#a0ffa0"/><stop offset="1" stop-color="#20c020"/></linearGradient>
<linearGradient id="gplus" x1="0" y1="0" x2="0" y2="1"><stop offset="0" stop-color="#80ff80"/><stop offset="1" stop-color="#10b010"/></linearGradient>
<radialGradient id="lens" cx="0.4" cy="0.35" r="0.7"><stop offset="0" stop-color="#ffffff"/><stop offset="1" stop-color="#b8e4f8"/></radialGradient>
<linearGradient id="hat" x1="0" y1="0" x2="0" y2="1"><stop offset="0" stop-color="#8fd0f8"/><stop offset="1" stop-color="#3a98d0"/></linearGradient>
<linearGradient id="funnel" x1="0" y1="0" x2="0" y2="1"><stop offset="0" stop-color="#f8e060"/><stop offset="1" stop-color="#fff4a0"/></linearGradient>
<linearGradient id="ringg" x1="0" y1="0" x2="1" y2="0.3"><stop offset="0" stop-color="#3f6fd8" stop-opacity="0.85"/><stop offset="0.45" stop-color="#c8d8f0" stop-opacity="0.7"/><stop offset="1" stop-color="#3aa040" stop-opacity="0.9"/></linearGradient>
<linearGradient id="notif" x1="0" y1="0" x2="0" y2="1"><stop offset="0" stop-color="#f06040"/><stop offset="1" stop-color="#d01808"/></linearGradient>
<radialGradient id="clockring" cx="0.4" cy="0.35" r="0.7"><stop offset="0.6" stop-color="#3aa0f8"/><stop offset="1" stop-color="#0a4fb0"/></radialGradient>
<pattern id="chk" width="2" height="2" patternUnits="userSpaceOnUse"><rect width="2" height="2" fill="#f7f7f7"/><rect width="1" height="1" fill="#ebebeb"/><rect x="1" y="1" width="1" height="1" fill="#ebebeb"/></pattern>
</defs>
<!-- text -->
<text x="-3.5" y="13" font-family="'Noto Sans CJK SC', 'WenQuanYi Zen Hei', sans-serif" font-size="12" fill="#000" textLength="37" lengthAdjust="spacingAndGlyphs">新订单</text>
<!-- gold book -->
<polygon points="45.2,11.4 53.3,17.4 60.6,12.2 60.2,10 53.3,14.6 46,10.4" fill="#f3dfa0" stroke="#8a5a10" stroke-width="0.9" stroke-linejoin="round"/>
<polygon points="51,3.3 60.2,10 53.3,15.2 45.6,10.8 49.5,6.2" fill="url(#gold)" stroke="#8a5a10" stroke-width="0.9" stroke-linejoin="round"/>
<!-- blue box + cloud -->
<rect x="75" y="2.5" width="10.5" height="9" fill="url(#bluebox)" stroke="#1060c0" stroke-width="0.8"/>
<line x1="77.5" y1="3" x2="77.5" y2="10" stroke="#d0ecff" stroke-width="0.8"/>
<line x1="80" y1="6.5" x2="84" y2="6.5" stroke="#d0ecff" stroke-width="1"/>
<path d="M74,16.5 C72.5,16.5 72.5,13 75,13 C75.5,11 78,10.5 79.5,11.5 C80.5,9.5 84,9.5 85,11.8 C87.5,11.5 89,13.5 88,15 C89,17.5 86,17.8 85,17.5 L75,17.5 C74,17.5 73.6,17 74,16.5 Z" fill="url(#cloud)" stroke="#3a5a98" stroke-width="0.9"/>
<!-- radio -->
<circle cx="109" cy="9.8" r="7.4" fill="none" stroke="url(#ringg)" stroke-width="1.3"/>
<circle cx="109" cy="9.8" r="4.7" fill="none" stroke="url(#ringg)" stroke-width="1.2"/>
<circle cx="109" cy="9.8" r="1.9" fill="#2050d0"/>
<line x1="109.6" y1="10" x2="109.6" y2="17.6" stroke="#20a020" stroke-width="1.3"/>
<!-- auto trading -->
<path d="M128.5,10 L135.5,18 L141,13 L144,10 Z" fill="url(#funnel)" stroke="#c89a10" stroke-width="0.8"/>
<ellipse cx="136" cy="7.5" rx="7.8" ry="2.6" fill="url(#hat)" stroke="#2b7db0" stroke-width="0.8"/>
<ellipse cx="136" cy="5" rx="3.6" ry="3.2" fill="url(#hat)" stroke="#2b7db0" stroke-width="0.8"/>
<circle cx="140.5" cy="13.8" r="4" fill="#e02010" stroke="#a01000" stroke-width="0.6"/>
<rect x="139" y="12.3" width="3" height="3" fill="#fff"/>
<text x="149.5" y="13" font-family="'Noto Sans CJK SC', 'WenQuanYi Zen Hei', sans-serif" font-size="12" fill="#000" textLength="47" lengthAdjust="spacingAndGlyphs">自动交易</text>
<!-- separators and grippers -->
<g shape-rendering="crispEdges">
<rect x="204" y="0" width="1" height="22" fill="#a0a0a0"/>
<rect x="205" y="0" width="1" height="22" fill="#ffffff"/>
<g fill="#a8a8a8"><rect x="208" y="1" width="3" height="1"/><rect x="208" y="3" width="3" height="1"/><rect x="208" y="5" width="3" height="1"/><rect x="208" y="7" width="3" height="1"/><rect x="208" y="9" width="3" height="1"/><rect x="208" y="11" width="3" height="1"/><rect x="208" y="13" width="3" height="1"/><rect x="208" y="15" width="3" height="1"/><rect x="208" y="17" width="3" height="1"/></g>
<rect x="243" y="0" width="25" height="20" fill="url(#chk)"/>
<rect x="242" y="0" width="1" height="20" fill="#a0a0a0"/>
<rect x="299" y="0" width="1" height="20" fill="#a0a0a0"/>
<rect x="389" y="0" width="1" height="20" fill="#a0a0a0"/>
<rect x="423" y="0" width="25" height="20" fill="url(#chk)"/>
<rect x="422" y="0" width="1" height="20" fill="#a0a0a0"/>
<rect x="451" y="0" width="1" height="20" fill="#a0a0a0"/>
<rect x="572" y="0" width="1" height="22" fill="#a0a0a0"/>
<g fill="#a8a8a8"><rect x="576" y="1" width="3" height="1"/><rect x="576" y="3" width="3" height="1"/><rect x="576" y="5" width="3" height="1"/><rect x="576" y="7" width="3" height="1"/><rect x="576" y="9" width="3" height="1"/><rect x="576" y="11" width="3" height="1"/><rect x="576" y="13" width="3" height="1"/><rect x="576" y="15" width="3" height="1"/><rect x="576" y="17" width="3" height="1"/></g>
<rect x="583" y="0" width="25" height="20" fill="url(#chk)"/>
<rect x="582" y="0" width="1" height="20" fill="#a0a0a0"/>
<rect x="639" y="0" width="1" height="20" fill="#a0a0a0"/>
<rect x="878" y="0" width="1" height="22" fill="#a0a0a0"/>
<g fill="#a8a8a8"><rect x="882" y="1" width="3" height="1"/><rect x="882" y="3" width="3" height="1"/><rect x="882" y="5" width="3" height="1"/><rect x="882" y="7" width="3" height="1"/><rect x="882" y="9" width="3" height="1"/><rect x="882" y="11" width="3" height="1"/><rect x="882" y="13" width="3" height="1"/><rect x="882" y="15" width="3" height="1"/><rect x="882" y="17" width="3" height="1"/></g>
<rect x="1029" y="0" width="25" height="20" fill="url(#chk)"/>
<rect x="1028" y="0" width="1" height="20" fill="#a0a0a0"/>
<rect x="1139" y="0" width="1" height="22" fill="#a0a0a0"/><rect x="243" y="20" width="25" height="1" fill="#ffffff"/><rect x="268" y="0" width="1" height="21" fill="#ffffff"/><rect x="423" y="20" width="25" height="1" fill="#ffffff"/><rect x="448" y="0" width="1" height="21" fill="#ffffff"/><rect x="583" y="20" width="25" height="1" fill="#ffffff"/><rect x="608" y="0" width="1" height="21" fill="#ffffff"/><rect x="1029" y="20" width="25" height="1" fill="#ffffff"/><rect x="1054" y="0" width="1" height="21" fill="#ffffff"/><rect x="300" y="0" width="1" height="20" fill="#ffffff"/><rect x="390" y="0" width="1" height="20" fill="#ffffff"/><rect x="452" y="0" width="1" height="20" fill="#ffffff"/><rect x="640" y="0" width="1" height="20" fill="#ffffff"/><rect x="1140" y="0" width="1" height="20" fill="#ffffff"/><rect x="573" y="0" width="1" height="22" fill="#ffffff"/><rect x="879" y="0" width="1" height="22" fill="#ffffff"/>
</g>
<!-- axes icons -->
<g fill="#555" stroke="none">
 <!-- bar chart -->
 <rect x="222" y="5" width="1" height="13"/><polygon points="220.5,6 222.5,3.8 224.5,6"/>
 <rect x="220" y="15" width="13" height="1"/><polygon points="232,13.5 234.3,15.5 232,17.5"/>
 <!-- candle -->
 <rect x="250" y="5" width="1" height="13"/><polygon points="248.5,6 250.5,3.8 252.5,6"/>
 <rect x="248" y="15" width="13" height="1"/><polygon points="260,13.5 262.3,15.5 260,17.5"/>
 <!-- line -->
 <rect x="278" y="5" width="1" height="13"/><polygon points="276.5,6 278.5,3.8 280.5,6"/>
 <rect x="276" y="15" width="13" height="1"/><polygon points="288,13.5 290.3,15.5 288,17.5"/>
 <!-- autoscroll -->
 <rect x="402" y="5" width="1" height="13"/><polygon points="400.5,6 402.5,3.8 404.5,6"/>
 <rect x="400" y="15" width="13" height="1"/><polygon points="412,13.5 414.3,15.5 412,17.5"/>
 <!-- chart shift -->
 <rect x="430" y="5" width="1" height="13"/><polygon points="428.5,6 430.5,3.8 432.5,6"/>
 <rect x="428" y="15" width="13" height="1"/><polygon points="440,13.5 442.3,15.5 440,17.5"/>
</g>
<g shape-rendering="crispEdges" fill="#109010">
 <rect x="228" y="5" width="1" height="9"/><rect x="229" y="6" width="2" height="1"/><rect x="226" y="12" width="2" height="1"/>
</g>
<rect x="254.5" y="4.5" width="4.5" height="7.5" fill="url(#gcandle)" stroke="#008000" stroke-width="1"/>
<line x1="256.75" y1="2" x2="256.75" y2="4.5" stroke="#008000" stroke-width="1"/>
<line x1="256.75" y1="12" x2="256.75" y2="14" stroke="#008000" stroke-width="1"/>
<path d="M277.2,12.8 C279.5,10.5 281.5,7 283.2,7.2 C285,7.4 286.5,10.5 288.5,11" fill="none" stroke="#2a9a2a" stroke-width="1"/>
<polygon points="407,6.2 411,9.5 407,12.8" fill="#40d040" stroke="#109010" stroke-width="0.8"/>
<rect x="436" y="4" width="1" height="10" fill="#1a6aa8"/>
<polygon points="437.3,9.4 440.5,7.5 439.8,9 442.5,9 442.5,9.8 439.8,9.8 440.5,11.3" fill="#e05a10"/>
<!-- zoom in/out -->
<g>
 <line x1="318.3" y1="12.3" x2="321.9" y2="15.9" stroke="#a87808" stroke-width="3.2" stroke-linecap="round"/>
 <line x1="318.3" y1="12.3" x2="321.9" y2="15.9" stroke="#f0d860" stroke-width="1.5" stroke-linecap="round"/>
 <circle cx="313.9" cy="7.9" r="5.4" fill="url(#lens)" stroke="#2a6cc4" stroke-width="1.2"/>
 <rect x="310.6" y="7" width="6.6" height="1.8" fill="#4a88b8"/><rect x="313" y="4.6" width="1.8" height="6.6" fill="#4a88b8"/>
 <line x1="346.3" y1="12.3" x2="349.9" y2="15.9" stroke="#a87808" stroke-width="3.2" stroke-linecap="round"/>
 <line x1="346.3" y1="12.3" x2="349.9" y2="15.9" stroke="#f0d860" stroke-width="1.5" stroke-linecap="round"/>
 <circle cx="341.9" cy="7.9" r="5.4" fill="url(#lens)" stroke="#2a6cc4" stroke-width="1.2"/>
 <rect x="338.6" y="7" width="6.6" height="1.8" fill="#4a88b8"/>
</g>
<!-- tile windows -->
<g shape-rendering="crispEdges"><rect x="364" y="2" width="8" height="8" rx="1" fill="#38a010"/><rect x="365" y="3" width="1" height="1" fill="#e8f4e8"/><rect x="365" y="5" width="6" height="3" fill="#fff"/><rect x="365" y="8" width="1" height="1" fill="#fff"/><rect x="370" y="8" width="1" height="1" fill="#fff"/><rect x="366" y="8" width="4" height="1" fill="#a8d890"/><rect x="366" y="6" width="4" height="1" fill="#a8d890"/><rect x="372" y="2" width="8" height="8" rx="1" fill="#2258d8"/><rect x="373" y="3" width="1" height="1" fill="#e8f4e8"/><rect x="373" y="5" width="6" height="3" fill="#fff"/><rect x="373" y="8" width="1" height="1" fill="#fff"/><rect x="378" y="8" width="1" height="1" fill="#fff"/><rect x="374" y="8" width="4" height="1" fill="#98b4ec"/><rect x="374" y="6" width="1" height="1" fill="#98b4ec"/><rect x="376" y="6" width="2" height="1" fill="#98b4ec"/><rect x="364" y="10" width="8" height="8" rx="1" fill="#2258d8"/><rect x="365" y="11" width="1" height="1" fill="#e8f4e8"/><rect x="365" y="13" width="6" height="3" fill="#fff"/><rect x="365" y="16" width="1" height="1" fill="#fff"/><rect x="370" y="16" width="1" height="1" fill="#fff"/><rect x="366" y="16" width="4" height="1" fill="#98b4ec"/><rect x="366" y="14" width="1" height="1" fill="#98b4ec"/><rect x="368" y="14" width="2" height="1" fill="#98b4ec"/><rect x="372" y="10" width="8" height="8" rx="1" fill="#38a010"/><rect x="373" y="11" width="1" height="1" fill="#e8f4e8"/><rect x="373" y="13" width="6" height="3" fill="#fff"/><rect x="373" y="16" width="1" height="1" fill="#fff"/><rect x="378" y="16" width="1" height="1" fill="#fff"/><rect x="374" y="16" width="4" height="1" fill="#a8d890"/><rect x="374" y="14" width="4" height="1" fill="#a8d890"/></g>
<!-- new chart -->
<path d="M461.8,2.8 L469.5,2.8 L472.2,5.5 L472.2,15.2 L461.8,15.2 Z" fill="#fafafa" stroke="#6a6a6a" stroke-width="0.9"/>
<path d="M464.5,6 C463.5,6 463.8,8 463.8,12" fill="none" stroke="#555" stroke-width="0.8"/>
<path d="M469.3,8.3 h3.4 v3.5 h3.8 v3.6 h-3.8 v3.8 h-3.4 v-3.8 h-3.8 v-3.6 h3.8 Z" fill="url(#gplus)" stroke="#0a8a0a" stroke-width="0.8"/>
<polygon points="482.7,9 488.2,9 485.45,12.1" fill="#000"/>
<!-- clock -->
<circle cx="506.9" cy="10" r="7.9" fill="url(#clockring)"/>
<circle cx="506.9" cy="10" r="5.5" fill="#fdfdfd" stroke="#8ec4f4" stroke-width="0.6"/>
<g fill="#777"><rect x="506.5" y="5" width="0.8" height="0.8"/><rect x="506.5" y="14.2" width="0.8" height="0.8" fill="#6ab0f0"/><rect x="502" y="9.6" width="0.8" height="0.8"/><rect x="511.2" y="9.6" width="0.8" height="0.8"/><rect x="503.3" y="6.3" width="0.7" height="0.7"/><rect x="509.8" y="6.3" width="0.7" height="0.7"/><rect x="503.3" y="13" width="0.7" height="0.7"/><rect x="509.8" y="13" width="0.7" height="0.7"/></g>
<path d="M506.2,5.8 L506.9,10.2 L510.2,11" fill="none" stroke="#202020" stroke-width="1.1" stroke-linejoin="round"/>
<polygon points="522,9 527.2,9 524.6,12.1" fill="#000"/>
<!-- indicators -->
<rect x="538.5" y="3.5" width="15" height="13" fill="#fff" stroke="#3a78c8" stroke-width="1"/>
<rect x="539" y="4" width="14" height="2" fill="#8ab4e8"/>
<line x1="539" y1="10.5" x2="553" y2="10.5" stroke="#3a78c8" stroke-width="1"/>
<polyline points="540.5,9.4 542.5,9 544,8.1 545.5,7.5 547,8.4 549,8.2 550.8,7.1 552.5,7" fill="none" stroke="#a02010" stroke-width="1.3"/>
<polyline points="540.8,14.6 542.8,13.8 544.8,14.4 546.8,13 548.8,12 551.8,14.6" fill="none" stroke="#10901a" stroke-width="1.3"/>
<polygon points="561,9 566.2,9 563.6,12.1" fill="#000"/>
<!-- cursor -->
<polygon points="590.5,3 598.5,10.2 595,10.2 597.2,15.5 595.2,16.4 593.2,11.3 590.5,13.5" fill="#505050"/>
<!-- crosshair -->
<g shape-rendering="crispEdges" fill="#555">
<rect x="615" y="10" width="6" height="1"/><rect x="624" y="10" width="6" height="1"/><rect x="622" y="3" width="1" height="6"/><rect x="622" y="12" width="1" height="6"/><rect x="622" y="10" width="1" height="1" fill="#8a8a7a"/>
<rect x="655" y="4" width="1" height="13"/>
<rect x="679" y="10" width="13" height="1"/>
</g>
<line x1="707" y1="16.5" x2="719" y2="5" stroke="#555" stroke-width="1"/>
<!-- channel -->
<g stroke="#444" stroke-width="0.9" fill="none">
<line x1="732.5" y1="12" x2="741" y2="4.5"/><line x1="735" y1="15" x2="746.5" y2="5"/><line x1="738" y1="16.5" x2="747" y2="8.5"/>
<line x1="735.5" y1="9.5" x2="736.5" y2="14"/><line x1="738.5" y1="7" x2="739.5" y2="12"/><line x1="741.5" y1="4.5" x2="742.5" y2="9.5"/><line x1="744.5" y1="2" x2="745" y2="7"/>
</g>
<text x="744" y="18.5" font-family="'Liberation Sans', sans-serif" font-weight="bold" font-size="6" fill="#404040">E</text>
<!-- fibo -->
<g stroke="#555" stroke-width="1" stroke-dasharray="1,1" shape-rendering="crispEdges">
<line x1="762" y1="3.5" x2="776" y2="3.5"/><line x1="762" y1="6.5" x2="776" y2="6.5"/><line x1="762" y1="10.5" x2="776" y2="10.5"/><line x1="762" y1="14.5" x2="771" y2="14.5"/>
</g>
<text x="771.5" y="18.7" font-family="'Liberation Sans', sans-serif" font-weight="bold" font-size="6" fill="#404040">F</text>
<text x="792.6" y="15" font-family="'Liberation Sans', sans-serif" font-weight="bold" font-size="12" fill="#505050" textLength="8" lengthAdjust="spacingAndGlyphs">A</text>
<rect x="819" y="4" width="11.5" height="12.5" fill="none" stroke="#555" stroke-width="1" stroke-dasharray="1,1"/>
<text x="820.5" y="14.5" font-family="'Liberation Sans', sans-serif" font-weight="bold" font-size="10.5" fill="#555" textLength="8.5" lengthAdjust="spacingAndGlyphs">T</text>
<!-- arrows icon -->
<polygon points="849.5,3.5 852.5,6 849.5,8.5 846.5,6" fill="#505050"/>
<polyline points="849,10 851,12.3 855,8" fill="none" stroke="#505050" stroke-width="1.2"/>
<polygon points="856.5,11 859.8,13.8 856.5,16.6 853.2,13.8" fill="#505050"/>
<polygon points="866.9,9 872.1,9 869.5,12.1" fill="#000"/>
<!-- timeframes -->
<g font-family="'Liberation Sans', sans-serif" font-size="9.6" fill="#333" stroke="#333" stroke-width="0.1">
<text x="894" y="14" textLength="12" lengthAdjust="spacingAndGlyphs">M1</text>
<text x="922" y="14" textLength="12" lengthAdjust="spacingAndGlyphs">M5</text>
<text x="948" y="14" textLength="17" lengthAdjust="spacingAndGlyphs">M15</text>
<text x="976" y="14" textLength="17" lengthAdjust="spacingAndGlyphs">M30</text>
<text x="1006" y="14" textLength="12" lengthAdjust="spacingAndGlyphs">H1</text>
<text x="1034" y="14" textLength="12" lengthAdjust="spacingAndGlyphs">H4</text>
<text x="1063" y="14" textLength="11.5" lengthAdjust="spacingAndGlyphs">D1</text>
<text x="1090" y="14" textLength="15" lengthAdjust="spacingAndGlyphs">W1</text>
<text x="1117" y="14" textLength="14" lengthAdjust="spacingAndGlyphs">MN</text>
</g>
<!-- search -->
<line x1="1602.3" y1="15" x2="1606.5" y2="10.8" stroke="#1f5fc8" stroke-width="2.2" stroke-linecap="round"/>
<circle cx="1609.5" cy="7.4" r="3.9" fill="#fff" stroke="#2a66d0" stroke-width="1.5"/>
<!-- notification -->
<path d="M1631,18 L1632.5,15.8 C1628,15.8 1626.3,13.8 1626.3,11.8 C1626.3,9 1629,7.5 1632,7.5 C1635,7.5 1637.5,9 1637.5,11.8 C1637.5,14 1635.5,15.8 1633.5,15.8 Z" fill="#dfe2ea" stroke="#a8a8a8" stroke-width="0.8"/>
<circle cx="1640.4" cy="7.4" r="8.2" fill="url(#notif)"/>
<text x="1640.6" y="11.8" text-anchor="middle" font-family="'Liberation Sans', sans-serif" font-weight="bold" font-size="11" fill="#fff">1</text>
</svg>

</div>
<div id="tbl1"></div><div id="tbl2"></div>
</body></html>
